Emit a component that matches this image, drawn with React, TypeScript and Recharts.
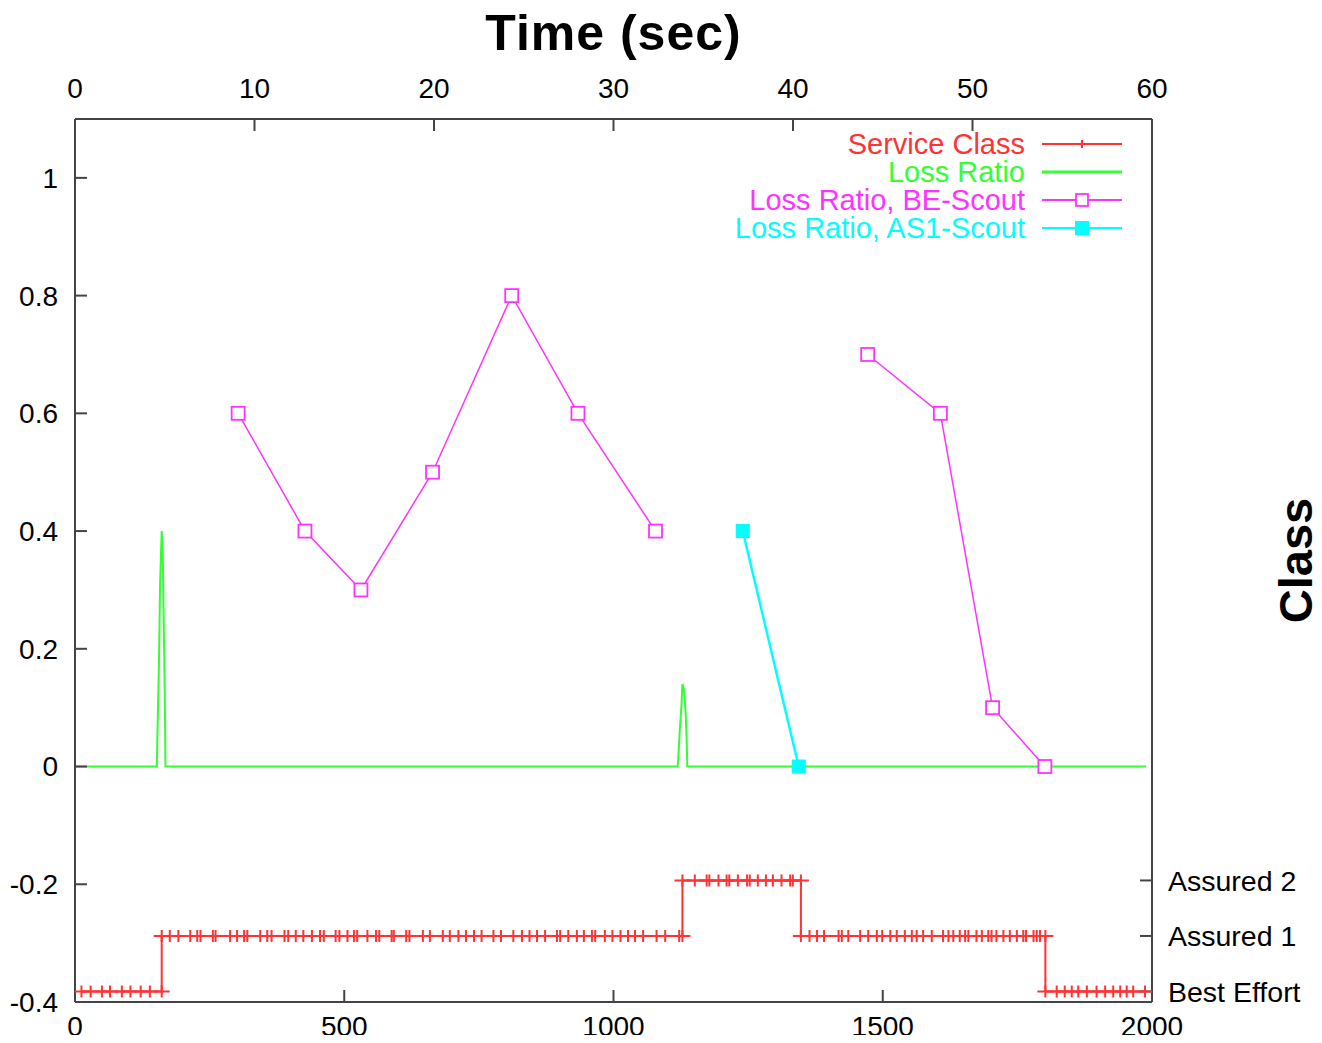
import { LineChart, Line, XAxis, YAxis, Legend } from 'recharts';

// service class levels, shown on the right axis
const classNames = ['Best Effort', 'Assured 1', 'Assured 2'];

// sample times (x, 0..2000) of the service class, grouped by class
const serviceSegments = [
  { cls: 0, t: [12, 29, 50, 65, 87, 103, 122, 139, 161] },
  {
    cls: 1,
    t: [161, 176, 192, 214, 227, 233, 256, 261, 288, 301, 314, 320, 344, 357, 365, 389, 396, 410, 424, 440, 455, 462,
      484, 491, 506, 518, 524, 543, 559, 565, 588, 592, 615, 621, 646, 659, 683, 696, 712, 726, 741, 755, 777, 791,
      814, 830, 844, 858, 873, 895, 901, 916, 932, 945, 960, 966, 984, 998, 1013, 1027, 1040, 1055, 1080, 1096, 1122, 1128],
  },
  { cls: 2, t: [1128, 1151, 1173, 1178, 1195, 1210, 1215, 1231, 1248, 1253, 1268, 1283, 1296, 1312, 1328, 1333, 1348] },
  {
    cls: 1,
    t: [1348, 1364, 1378, 1391, 1418, 1424, 1436, 1458, 1473, 1489, 1499, 1514, 1526, 1541, 1554, 1563, 1575, 1591,
      1612, 1622, 1631, 1643, 1653, 1659, 1674, 1684, 1696, 1702, 1711, 1724, 1736, 1749, 1761, 1766, 1780, 1786, 1792, 1802],
  },
  { cls: 0, t: [1802, 1823, 1838, 1851, 1863, 1879, 1897, 1913, 1928, 1941, 1953, 1965, 1987] },
];

const lossRatio = [
  { t: 0, v: 0 }, { t: 152, v: 0 }, { t: 153, v: 0.05 }, { t: 156, v: 0.18 }, { t: 158, v: 0.31 },
  { t: 161, v: 0.4 }, { t: 163, v: 0.36 }, { t: 165, v: 0.23 }, { t: 167, v: 0.1 }, { t: 168, v: 0 },
  { t: 1119, v: 0 }, { t: 1120, v: 0.01 }, { t: 1123, v: 0.06 }, { t: 1126, v: 0.1 }, { t: 1128, v: 0.14 },
  { t: 1131, v: 0.13 }, { t: 1134, v: 0.09 }, { t: 1136, v: 0.04 }, { t: 1137, v: 0 }, { t: 1989, v: 0 },
];

const beScoutFirst = [
  { t: 303, v: 0.6 }, { t: 427, v: 0.4 }, { t: 531, v: 0.3 }, { t: 664, v: 0.5 },
  { t: 811, v: 0.8 }, { t: 934, v: 0.6 }, { t: 1078, v: 0.4 },
];
const beScoutSecond = [
  { t: 1472, v: 0.7 }, { t: 1607, v: 0.6 }, { t: 1704, v: 0.1 }, { t: 1801, v: 0 },
];
const as1Scout = [
  { t: 1240, v: 0.4 }, { t: 1344, v: 0 },
];

const timeTicks = [0, 10, 20, 30, 40, 50, 60];
const indexTicks = [0, 500, 1000, 1500, 2000];
const ratioTicks = [-0.4, -0.2, 0, 0.2, 0.4, 0.6, 0.8, 1];

const RED = '#ff3333';
const GREEN = '#33ff33';
const MAGENTA = '#ff33ff';
const CYAN = '#00ffff';
const FONT = '"Liberation Sans", Arial, sans-serif';

const serviceData = serviceSegments.flatMap(seg => seg.t.map(t => ({ t, cls: seg.cls })));
// chart-level rows so the seconds axis on top gets a domain
const timeRows = timeTicks.map(s => ({ s }));

const legendItems = [
  { name: 'Service Class', color: RED, marker: 'plus' },
  { name: 'Loss Ratio', color: GREEN, marker: 'none' },
  { name: 'Loss Ratio, BE-Scout', color: MAGENTA, marker: 'open' },
  { name: 'Loss Ratio, AS1-Scout', color: CYAN, marker: 'filled' },
];

const PlusDot = (props: any) => {
  const { cx, cy, index } = props;
  if (cx == null || cy == null) return <g key={index} />;
  return (
    <path key={index} d={`M${cx - 8},${cy}h16M${cx},${cy - 6}v12`} stroke={RED} strokeWidth={2} fill="none" />
  );
};

const squareDot = (color: string, filled: boolean) => (props: any) => {
  const { cx, cy, index } = props;
  if (cx == null || cy == null) return <g key={index} />;
  return (
    <rect key={index} x={cx - 6.5} y={cy - 6.5} width={13} height={13}
      fill={filled ? color : '#fff'} stroke={color} strokeWidth={filled ? 1 : 1.8} />
  );
};

const renderLegend = () => (
  <div style={{ fontFamily: FONT, fontSize: 29 }}>
    {legendItems.map(item => (
      <div key={item.name} style={{ display: 'flex', alignItems: 'center', height: 28 }}>
        <span style={{ width: 400, textAlign: 'right', color: item.color, whiteSpace: 'nowrap', lineHeight: '28px' }}>
          {item.name}
        </span>
        <svg width={80} height={28} style={{ marginLeft: 17 }}>
          <line x1={0} y1={14} x2={80} y2={14} stroke={item.color} strokeWidth={item.marker === 'none' ? 3 : 2} />
          {item.marker === 'plus' && <line x1={40} y1={10} x2={40} y2={18} stroke={item.color} strokeWidth={2} />}
          {item.marker === 'open' && <rect x={34} y={8} width={12} height={12} fill="#fff" stroke={item.color} strokeWidth={1.8} />}
          {item.marker === 'filled' && <rect x={33} y={7} width={14} height={14} fill={item.color} />}
        </svg>
      </div>
    ))}
  </div>
);

const axisStroke = { stroke: '#444', strokeWidth: 2 };
const tickStyle = { fontSize: 28, fill: '#000', fontFamily: FONT };

export default function App() {
  return (
    <div style={{ marginTop: -8, marginBottom: -8 }}>
      <LineChart width={1314} height={1043} data={timeRows} margin={{ top: 39, right: 20, bottom: 11, left: 7 }}>
        <XAxis
          xAxisId="bottom"
          type="number"
          dataKey="t"
          domain={[0, 2000]}
          ticks={indexTicks}
          orientation="bottom"
          height={30}
          tickSize={-12}
          tickMargin={26}
          axisLine={axisStroke}
          tickLine={axisStroke}
          tick={tickStyle}
          allowDataOverflow
        />
        <XAxis
          xAxisId="top"
          type="number"
          dataKey="s"
          domain={[0, 60]}
          ticks={timeTicks}
          orientation="top"
          height={80}
          tickSize={-12}
          tickMargin={33}
          axisLine={axisStroke}
          tickLine={axisStroke}
          tick={tickStyle}
          allowDataOverflow
          label={{
            content: (p: any) => (
              <text x={p.viewBox.x + p.viewBox.width / 2} y={p.viewBox.y + 11} textAnchor="middle"
                fontFamily={FONT} fontWeight="bold" fontSize={50} letterSpacing={1} fill="#000">
                Time (sec)
              </text>
            ),
          }}
        />
        <YAxis
          yAxisId="left"
          type="number"
          domain={[-0.4, 1.1]}
          ticks={ratioTicks}
          width={60}
          tickSize={-12}
          tickMargin={29}
          axisLine={axisStroke}
          tickLine={axisStroke}
          tick={tickStyle}
          allowDataOverflow
        />
        <YAxis
          yAxisId="right"
          orientation="right"
          type="number"
          domain={[-0.19, 15.72]}
          ticks={[0, 1, 2]}
          width={150}
          tickSize={-12}
          tickMargin={28}
          axisLine={axisStroke}
          tickLine={axisStroke}
          tick={{ ...tickStyle, fontSize: 28.5, textAnchor: 'start' }}
          tickFormatter={(v: number) => classNames[v]}
          allowDataOverflow
          label={{
            content: (p: any) => {
              const x = p.viewBox.x + 160;
              const y = p.viewBox.y + p.viewBox.height / 2;
              return (
                <text x={x} y={y} transform={`rotate(-90 ${x} ${y})`} textAnchor="middle"
                  fontFamily={FONT} fontWeight="bold" fontSize={47} fill="#000">
                  Class
                </text>
              );
            },
          }}
        />
        <Legend
          layout="horizontal"
          verticalAlign="middle"
          align="center"
          content={renderLegend}
          wrapperStyle={{ left: 617, top: 130, width: 497 }}
        />
        <Line
          name="Service Class"
          data={serviceData}
          dataKey="cls"
          xAxisId="bottom"
          yAxisId="right"
          type="linear"
          stroke={RED}
          strokeWidth={2}
          dot={PlusDot}
          activeDot={false}
          isAnimationActive={false}
        />
        <Line
          name="Loss Ratio"
          data={lossRatio}
          dataKey="v"
          xAxisId="bottom"
          yAxisId="left"
          type="linear"
          stroke={GREEN}
          strokeWidth={2}
          dot={false}
          activeDot={false}
          isAnimationActive={false}
        />
        <Line
          name="Loss Ratio, BE-Scout"
          data={beScoutFirst}
          dataKey="v"
          xAxisId="bottom"
          yAxisId="left"
          type="linear"
          stroke={MAGENTA}
          strokeWidth={1.5}
          dot={squareDot(MAGENTA, false)}
          activeDot={false}
          isAnimationActive={false}
        />
        <Line
          name="Loss Ratio, BE-Scout"
          data={beScoutSecond}
          dataKey="v"
          xAxisId="bottom"
          yAxisId="left"
          type="linear"
          stroke={MAGENTA}
          strokeWidth={1.5}
          dot={squareDot(MAGENTA, false)}
          activeDot={false}
          isAnimationActive={false}
        />
        <Line
          name="Loss Ratio, AS1-Scout"
          data={as1Scout}
          dataKey="v"
          xAxisId="bottom"
          yAxisId="left"
          type="linear"
          stroke={CYAN}
          strokeWidth={2.5}
          dot={squareDot(CYAN, true)}
          activeDot={false}
          isAnimationActive={false}
        />
      </LineChart>
    </div>
  );
}
